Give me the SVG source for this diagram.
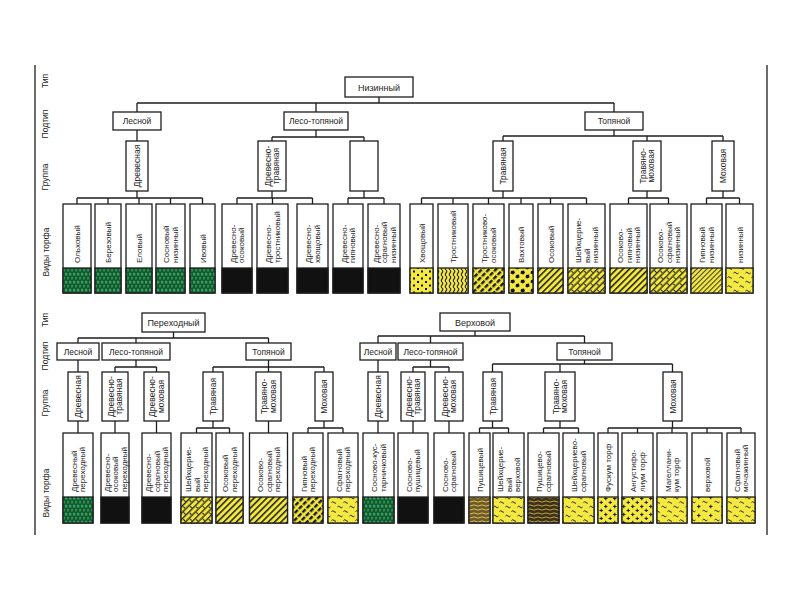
<svg xmlns="http://www.w3.org/2000/svg" width="800" height="600" viewBox="0 0 800 600">
<style>
.b{fill:#fff;stroke:#1e1e1e;stroke-width:1.3}
.p{stroke:#1e1e1e;stroke-width:1.3}
.k{fill:#111;stroke:#1e1e1e;stroke-width:1.3}
.c{fill:none;stroke:#1e1e1e;stroke-width:1.3}
.t{font-family:"Liberation Sans",Arial,sans-serif;fill:#1e1e1e}
.ty{font-size:9px;text-anchor:middle}
.st{font-size:8.5px;text-anchor:middle}
.g{font-size:8.5px;text-anchor:middle}
.s{font-size:8px}
.ax{font-size:8.5px;text-anchor:middle}
</style>
<defs>
<pattern id="pG" width="8" height="8" patternUnits="userSpaceOnUse">
<rect width="8" height="8" fill="#0d4a24"/>
<rect x="0.8" y="0.6" width="2.6" height="3" fill="#35a060"/>
<rect x="4.8" y="0.6" width="2.6" height="3" fill="#35a060"/>
<rect x="2.8" y="4.6" width="2.6" height="3" fill="#2b8a50"/>
<rect x="6.8" y="4.6" width="1.2" height="3" fill="#2b8a50"/>
<rect x="0" y="4.6" width="1.4" height="3" fill="#2b8a50"/>
</pattern>
<pattern id="pH" width="4.5" height="4.5" patternUnits="userSpaceOnUse" patternTransform="rotate(45)">
<rect width="4.5" height="4.5" fill="#f4e940"/><rect width="1.5" height="4.5" fill="#1a1a1a"/>
</pattern>
<pattern id="pHT" width="5" height="6" patternUnits="userSpaceOnUse" patternTransform="rotate(45)">
<rect width="5" height="6" fill="#f4e940"/><rect width="2.4" height="4.5" fill="#1a1a1a"/>
</pattern>
<pattern id="pHF" width="3.5" height="3.5" patternUnits="userSpaceOnUse" patternTransform="rotate(45)">
<rect width="3.5" height="3.5" fill="#f4e940"/><rect width="1" height="3.5" fill="#333"/>
</pattern>
<pattern id="pHD" width="9" height="9" patternUnits="userSpaceOnUse" patternTransform="rotate(45)">
<rect width="9" height="9" fill="#f4e940"/><rect width="1.3" height="9" fill="#1a1a1a"/><rect x="4.5" width="1.3" height="9" fill="#1a1a1a"/><rect x="1.8" y="3" width="2.4" height="1.1" fill="#1a1a1a"/><rect x="6.3" y="7" width="2.4" height="1.1" fill="#1a1a1a"/>
</pattern>
<pattern id="pT" width="12" height="9" patternUnits="userSpaceOnUse">
<rect width="12" height="9" fill="#f4e940"/>
<path d="M1.5 3q1.25-1.6 2.5 0q1.25 1.6 2.5 0M7.5 7.5q1.25-1.6 2.5 0q1.25 1.6 2.5 0" fill="none" stroke="#222" stroke-width="1"/>
</pattern>
<pattern id="pD" width="8" height="7" patternUnits="userSpaceOnUse">
<rect width="8" height="7" fill="#f4e940"/><rect x="1" y="1" width="2" height="2" fill="#111"/><rect x="5" y="4.5" width="2" height="2" fill="#111"/>
</pattern>
<pattern id="pW" width="4" height="6" patternUnits="userSpaceOnUse">
<rect width="4" height="6" fill="#f4e940"/><path d="M2 0q1.5 1.5 0 3q-1.5 1.5 0 3" fill="none" stroke="#222" stroke-width="1.1"/>
</pattern>
<pattern id="pBl" width="10" height="9" patternUnits="userSpaceOnUse">
<rect width="10" height="9" fill="#f4e940"/><polygon points="1,1 4,0.5 5,3 3,4.5 0.5,3.5" fill="#111"/><polygon points="6,5 9,4.5 9.5,7.5 7,8.5 5.5,7.5" fill="#111"/>
</pattern>
<pattern id="pP" width="9" height="8" patternUnits="userSpaceOnUse">
<rect width="9" height="8" fill="#f4e940"/><path d="M1 2.5h3.5M2.75 0.75v3.5M5.5 6.5h3.5M7.25 4.75v3.5" stroke="#222" stroke-width="1.1"/>
</pattern>
<pattern id="pPT" width="12" height="9" patternUnits="userSpaceOnUse">
<rect width="12" height="9" fill="#f4e940"/><path d="M1 2.5h3.5M2.75 0.75v3.5" stroke="#222" stroke-width="1.1"/><path d="M6.5 7q1.25-1.6 2.5 0q1.25 1.6 2.5 0" fill="none" stroke="#222" stroke-width="1"/>
</pattern>
<pattern id="pB" width="8" height="4" patternUnits="userSpaceOnUse">
<rect width="8" height="4" fill="#6e5b24"/><path d="M0 1.5q2-1.2 4 0t4 0" fill="none" stroke="#d8c066" stroke-width="1"/>
</pattern>
<pattern id="pB2" width="8" height="4" patternUnits="userSpaceOnUse">
<rect width="8" height="4" fill="#3e3214"/><path d="M0 1.5q2-1.2 4 0t4 0" fill="none" stroke="#b9a055" stroke-width="1"/>
</pattern>
</defs>

<g id="frame">
<line class="c" x1="35" y1="65" x2="35" y2="535"/>
<line class="c" x1="767" y1="65" x2="767" y2="535"/>
</g>

<g id="axis" class="t">
<text class="ax" transform="translate(48,81) rotate(-90)">Тип</text>
<text class="ax" transform="translate(48,124) rotate(-90)">Подтип</text>
<text class="ax" transform="translate(48,177) rotate(-90)">Группа</text>
<text class="ax" transform="translate(49,252) rotate(-90)">Виды торфа</text>
<text class="ax" transform="translate(48,320) rotate(-90)">Тип</text>
<text class="ax" transform="translate(48,356) rotate(-90)">Подтип</text>
<text class="ax" transform="translate(48,403) rotate(-90)">Группа</text>
<text class="ax" transform="translate(49,493) rotate(-90)">Виды торфа</text>
</g>

<g id="connectors" class="c">
<path d="M379 97V103M137 103H614M137 103V112M316 103V112M614 103V112"/>
<path d="M137 130V141M137 191V198M77 198H202.5M77 198V204M108 198V204M139 198V204M170.5 198V204M202.5 198V204"/>
<path d="M316 130V137M272 137H364M272 137V141M364 137V141M272 191V198M237 198H312.5M237 198V204M272.5 198V204M312.5 198V204M364 191V198M348 198H384M348 198V204M384 198V204"/>
<path d="M614 130V136M503 136H723M503 136V141M647 136V141M723 136V141M503 191V198M421.5 198H586.5M421.5 198V204M453 198V204M488.5 198V204M521 198V204M550.5 198V204M586.5 198V204M647 191V198M628.5 198H668.5M628.5 198V204M668.5 198V204M723 191V198M706.5 198H739.5M706.5 198V204M739.5 198V204"/>
<path d="M173.5 332V338M78 338H268.5M78 338V343M136 338V343M268.5 338V343M78 360V372M78 421V433"/>
<path d="M136 360V367M115 367H156.5M115 367V372M156.5 367V372M115 421V433M156.5 421V433"/>
<path d="M268.5 360V367M213 367H324M213 367V372M268.5 367V372M324 367V372M213 421V428M196.5 428H229.5M196.5 428V433M229.5 428V433M268.5 421V433M324 421V428M308 428H343M308 428V433M343 428V433"/>
<path d="M475 331V336M378 336H584.5M378 336V343M430.5 336V343M584.5 336V343M378 360V372M378 421V433"/>
<path d="M430.5 360V367M413 367H449M413 367V372M449 367V372M413 421V433M449 421V433"/>
<path d="M584.5 360V364M492.5 364H672.5M492.5 364V372M560 364V372M672.5 364V372M492.5 421V428M479.5 428H508.5M479.5 428V433M508.5 428V433M560 421V428M543.5 428H578.5M543.5 428V433M578.5 428V433M672.5 421V428M608 428H741M608 428V433M637.5 428V433M672 428V433M707 428V433M741 428V433"/>
</g>

<g id="nizinny" class="t"><rect class="b" x="345" y="77" width="68" height="20"/><text class="t ty" x="379" y="90.5">Низинный</text></g>
<g id="n-lesnoy" class="t"><rect class="b" x="113" y="112" width="48" height="18"/><text class="t st" x="137" y="124">Лесной</text></g>
<g id="n-lesotop" class="t"><rect class="b" x="284" y="112" width="64" height="18"/><text class="t st" x="316" y="124">Лесо-топяной</text></g>
<g id="n-topyanoy" class="t"><rect class="b" x="585" y="112" width="58" height="18"/><text class="t st" x="614" y="124">Топяной</text></g>

<g id="n-g-drev" class="t"><rect class="b" x="126" y="141" width="22" height="50"/><text class="t g" transform="translate(140,166) rotate(-90)">Древесная</text></g>
<g id="n-g-drtr" class="t"><rect class="b" x="258" y="141" width="28" height="50"/><text class="t g" transform="translate(270.75,166) rotate(-90)"><tspan x="0">Древесно-</tspan><tspan x="0" dy="8.5">травяная</tspan></text></g>
<g id="n-g-empty"><rect class="b" x="350" y="141" width="28" height="50"/></g>
<g id="n-g-trav" class="t"><rect class="b" x="493" y="141" width="20" height="50"/><text class="t g" transform="translate(506,166) rotate(-90)">Травяная</text></g>
<g id="n-g-trmo" class="t"><rect class="b" x="633" y="141" width="28" height="50"/><text class="t g" transform="translate(645.75,166) rotate(-90)"><tspan x="0">Травяно-</tspan><tspan x="0" dy="8.5">моховая</tspan></text></g>
<g id="n-g-moh" class="t"><rect class="b" x="712" y="141" width="22" height="50"/><text class="t g" transform="translate(726,166) rotate(-90)">Моховая</text></g>

<g id="n-s1"><rect class="b" x="63" y="204" width="28" height="89"/><rect class="p" x="63" y="268" width="28" height="25" fill="url(#pG)"/><text class="t s" transform="translate(80,263) rotate(-90)">Ольховый</text></g>
<g id="n-s2"><rect class="b" x="95" y="204" width="26" height="89"/><rect class="p" x="95" y="268" width="26" height="25" fill="url(#pG)"/><text class="t s" transform="translate(111,263) rotate(-90)">Березовый</text></g>
<g id="n-s3"><rect class="b" x="126" y="204" width="26" height="89"/><rect class="p" x="126" y="268" width="26" height="25" fill="url(#pG)"/><text class="t s" transform="translate(142,263) rotate(-90)">Еловый</text></g>
<g id="n-s4"><rect class="b" x="156" y="204" width="29" height="89"/><rect class="p" x="156" y="268" width="29" height="25" fill="url(#pG)"/><text class="t s" transform="translate(169.25,263) rotate(-90)"><tspan x="0">Сосновый</tspan><tspan x="0" dy="8.5">низинный</tspan></text></g>
<g id="n-s5"><rect class="b" x="190" y="204" width="25" height="89"/><rect class="p" x="190" y="268" width="25" height="25" fill="url(#pG)"/><text class="t s" transform="translate(205.5,263) rotate(-90)">Ивовый</text></g>
<g id="n-s6"><rect class="b" x="222" y="204" width="30" height="89"/><rect class="k" x="222" y="268" width="30" height="25"/><text class="t s" transform="translate(235.75,263) rotate(-90)"><tspan x="0">Древесно-</tspan><tspan x="0" dy="8.5">осоковый</tspan></text></g>
<g id="n-s7"><rect class="b" x="257" y="204" width="31" height="89"/><rect class="k" x="257" y="268" width="31" height="25"/><text class="t s" transform="translate(271.25,263) rotate(-90)"><tspan x="0">Древесно-</tspan><tspan x="0" dy="8.5">тростниковый</tspan></text></g>
<g id="n-s8"><rect class="b" x="297" y="204" width="31" height="89"/><rect class="k" x="297" y="268" width="31" height="25"/><text class="t s" transform="translate(311.25,263) rotate(-90)"><tspan x="0">Древесно-</tspan><tspan x="0" dy="8.5">хвощовый</tspan></text></g>
<g id="n-s9"><rect class="b" x="333" y="204" width="30" height="89"/><rect class="k" x="333" y="268" width="30" height="25"/><text class="t s" transform="translate(346.75,263) rotate(-90)"><tspan x="0">Древесно-</tspan><tspan x="0" dy="8.5">гипновый</tspan></text></g>
<g id="n-s10"><rect class="b" x="368" y="204" width="32" height="89"/><rect class="k" x="368" y="268" width="32" height="25"/><text class="t s" transform="translate(378.5,263) rotate(-90)"><tspan x="0">Древесно-</tspan><tspan x="0" dy="8.5">сфагновый</tspan><tspan x="0" dy="8.5">низинный</tspan></text></g>
<g id="n-s11"><rect class="b" x="410" y="204" width="23" height="89"/><rect class="p" x="410" y="268" width="23" height="25" fill="url(#pD)"/><text class="t s" transform="translate(424.5,263) rotate(-90)">Хвощовый</text></g>
<g id="n-s12"><rect class="b" x="438" y="204" width="30" height="89"/><rect class="p" x="438" y="268" width="30" height="25" fill="url(#pW)"/><text class="t s" transform="translate(456,263) rotate(-90)">Тростниковый</text></g>
<g id="n-s13"><rect class="b" x="473" y="204" width="31" height="89"/><rect class="p" x="473" y="268" width="31" height="25" fill="url(#pHT)"/><text class="t s" transform="translate(487.25,263) rotate(-90)"><tspan x="0">Тростниково-</tspan><tspan x="0" dy="8.5">осоковый</tspan></text></g>
<g id="n-s14"><rect class="b" x="509" y="204" width="24" height="89"/><rect class="p" x="509" y="268" width="24" height="25" fill="url(#pBl)"/><text class="t s" transform="translate(524,263) rotate(-90)">Вахтовый</text></g>
<g id="n-s15"><rect class="b" x="538" y="204" width="25" height="89"/><rect class="p" x="538" y="268" width="25" height="25" fill="url(#pH)"/><text class="t s" transform="translate(553.5,263) rotate(-90)">Осоковый</text></g>
<g id="n-s16"><rect class="b" x="568" y="204" width="37" height="89"/><rect class="p" x="568" y="268" width="37" height="25" fill="url(#pHD)"/><text class="t s" transform="translate(581,263) rotate(-90)"><tspan x="0">Шейхцерие-</tspan><tspan x="0" dy="8.5">вый</tspan><tspan x="0" dy="8.5">низинный</tspan></text></g>
<g id="n-s17"><rect class="b" x="610" y="204" width="37" height="89"/><rect class="p" x="610" y="268" width="37" height="25" fill="url(#pH)"/><text class="t s" transform="translate(623,263) rotate(-90)"><tspan x="0">Осоково-</tspan><tspan x="0" dy="8.5">гипновый</tspan><tspan x="0" dy="8.5">низинный</tspan></text></g>
<g id="n-s18"><rect class="b" x="650" y="204" width="37" height="89"/><rect class="p" x="650" y="268" width="37" height="25" fill="url(#pHD)"/><text class="t s" transform="translate(663,263) rotate(-90)"><tspan x="0">Осоково-</tspan><tspan x="0" dy="8.5">сфагновый</tspan><tspan x="0" dy="8.5">низинный</tspan></text></g>
<g id="n-s19"><rect class="b" x="691" y="204" width="31" height="89"/><rect class="p" x="691" y="268" width="31" height="25" fill="url(#pHF)"/><text class="t s" transform="translate(705.25,263) rotate(-90)"><tspan x="0">Гипновый</tspan><tspan x="0" dy="8.5">низинный</tspan></text></g>
<g id="n-s20"><rect class="b" x="726" y="204" width="27" height="89"/><rect class="p" x="726" y="268" width="27" height="25" fill="url(#pT)"/><text class="t s" transform="translate(742.5,263) rotate(-90)">низинный</text></g>

<g id="perehodny"><rect class="b" x="142" y="313" width="63" height="19"/><text class="t ty" x="173.5" y="326">Переходный</text></g>
<g id="p-lesnoy"><rect class="b" x="57" y="343" width="42" height="17"/><text class="t st" x="78" y="354.5">Лесной</text></g>
<g id="p-lesotop"><rect class="b" x="102" y="343" width="68" height="17"/><text class="t st" x="136" y="354.5">Лесо-топяной</text></g>
<g id="p-topyanoy"><rect class="b" x="246" y="343" width="45" height="17"/><text class="t st" x="268.5" y="354.5">Топяной</text></g>
<g id="p-g-drev"><rect class="b" x="68" y="372" width="20" height="49"/><text class="t g" transform="translate(81,396.5) rotate(-90)">Древесная</text></g>
<g id="p-g-drtr"><rect class="b" x="102" y="372" width="26" height="49"/><text class="t g" transform="translate(113.75,396.5) rotate(-90)"><tspan x="0">Древесно-</tspan><tspan x="0" dy="8.5">травяная</tspan></text></g>
<g id="p-g-drmo"><rect class="b" x="144" y="372" width="25" height="49"/><text class="t g" transform="translate(155.25,396.5) rotate(-90)"><tspan x="0">Древесно-</tspan><tspan x="0" dy="8.5">моховая</tspan></text></g>
<g id="p-g-trav"><rect class="b" x="203" y="372" width="20" height="49"/><text class="t g" transform="translate(216,396.5) rotate(-90)">Травяная</text></g>
<g id="p-g-trmo"><rect class="b" x="256" y="372" width="25" height="49"/><text class="t g" transform="translate(267.25,396.5) rotate(-90)"><tspan x="0">Травяно-</tspan><tspan x="0" dy="8.5">моховая</tspan></text></g>
<g id="p-g-moh"><rect class="b" x="315" y="372" width="18" height="49"/><text class="t g" transform="translate(327,396.5) rotate(-90)">Моховая</text></g>

<g id="p-s1"><rect class="b" x="63" y="433" width="30" height="90"/><rect class="p" x="63" y="497" width="30" height="26" fill="url(#pG)"/><text class="t s" transform="translate(76.75,492) rotate(-90)"><tspan x="0">Древесный</tspan><tspan x="0" dy="8.5">переходный</tspan></text></g>
<g id="p-s2"><rect class="b" x="101" y="433" width="28" height="90"/><rect class="k" x="101" y="497" width="28" height="26"/><text class="t s" transform="translate(109.5,492) rotate(-90)"><tspan x="0">Древесно-</tspan><tspan x="0" dy="8.5">осоковый</tspan><tspan x="0" dy="8.5">переходный</tspan></text></g>
<g id="p-s3"><rect class="b" x="142" y="433" width="29" height="90"/><rect class="k" x="142" y="497" width="29" height="26"/><text class="t s" transform="translate(151,492) rotate(-90)"><tspan x="0">Древесно-</tspan><tspan x="0" dy="8.5">сфагновый</tspan><tspan x="0" dy="8.5">переходный</tspan></text></g>
<g id="p-s4"><rect class="b" x="181" y="433" width="31" height="90"/><rect class="p" x="181" y="497" width="31" height="26" fill="url(#pHD)"/><text class="t s" transform="translate(191,492) rotate(-90)"><tspan x="0">Шейхцерие-</tspan><tspan x="0" dy="8.5">вый</tspan><tspan x="0" dy="8.5">переходный</tspan></text></g>
<g id="p-s5"><rect class="b" x="216" y="433" width="27" height="90"/><rect class="p" x="216" y="497" width="27" height="26" fill="url(#pH)"/><text class="t s" transform="translate(228.25,492) rotate(-90)"><tspan x="0">Осоковый</tspan><tspan x="0" dy="8.5">переходный</tspan></text></g>
<g id="p-s6"><rect class="b" x="249.5" y="433" width="38" height="90"/><rect class="p" x="249.5" y="497" width="38" height="26" fill="url(#pH)"/><text class="t s" transform="translate(263,492) rotate(-90)"><tspan x="0">Осоково-</tspan><tspan x="0" dy="8.5">сфагновый</tspan><tspan x="0" dy="8.5">переходный</tspan></text></g>
<g id="p-s7"><rect class="b" x="293" y="433" width="30" height="90"/><rect class="p" x="293" y="497" width="30" height="26" fill="url(#pHT)"/><text class="t s" transform="translate(306.75,492) rotate(-90)"><tspan x="0">Гипновый</tspan><tspan x="0" dy="8.5">переходный</tspan></text></g>
<g id="p-s8"><rect class="b" x="328" y="433" width="30" height="90"/><rect class="p" x="328" y="497" width="30" height="26" fill="url(#pT)"/><text class="t s" transform="translate(341.75,492) rotate(-90)"><tspan x="0">Сфагновый</tspan><tspan x="0" dy="8.5">переходный</tspan></text></g>

<g id="verhovoy"><rect class="b" x="440" y="313" width="70" height="18"/><text class="t ty" x="475" y="325.5">Верховой</text></g>
<g id="v-lesnoy"><rect class="b" x="360" y="343" width="36" height="17"/><text class="t st" x="378" y="354.5">Лесной</text></g>
<g id="v-lesotop"><rect class="b" x="398" y="343" width="65" height="17"/><text class="t st" x="430.5" y="354.5">Лесо-топяной</text></g>
<g id="v-topyanoy"><rect class="b" x="557" y="343" width="55" height="17"/><text class="t st" x="584.5" y="354.5">Топяной</text></g>
<g id="v-g-drev"><rect class="b" x="368" y="372" width="20" height="49"/><text class="t g" transform="translate(381,396.5) rotate(-90)">Древесная</text></g>
<g id="v-g-drtr"><rect class="b" x="401" y="372" width="24" height="49"/><text class="t g" transform="translate(411.75,396.5) rotate(-90)"><tspan x="0">Древесно-</tspan><tspan x="0" dy="8.5">травяная</tspan></text></g>
<g id="v-g-drmo"><rect class="b" x="435" y="372" width="28" height="49"/><text class="t g" transform="translate(447.75,396.5) rotate(-90)"><tspan x="0">Древесно-</tspan><tspan x="0" dy="8.5">моховая</tspan></text></g>
<g id="v-g-trav"><rect class="b" x="483" y="372" width="19" height="49"/><text class="t g" transform="translate(495.5,396.5) rotate(-90)">Травяная</text></g>
<g id="v-g-trmo"><rect class="b" x="545" y="372" width="30" height="49"/><text class="t g" transform="translate(558.75,396.5) rotate(-90)"><tspan x="0">Травяно-</tspan><tspan x="0" dy="8.5">моховая</tspan></text></g>
<g id="v-g-moh"><rect class="b" x="663" y="372" width="19" height="49"/><text class="t g" transform="translate(675.5,396.5) rotate(-90)">Моховая</text></g>

<g id="v-s1"><rect class="b" x="363" y="433" width="31" height="90"/><rect class="p" x="363" y="497" width="31" height="26" fill="url(#pG)"/><text class="t s" transform="translate(377.25,492) rotate(-90)"><tspan x="0">Сосново-кус-</tspan><tspan x="0" dy="8.5">тарничковый</tspan></text></g>
<g id="v-s2"><rect class="b" x="398" y="433" width="30" height="90"/><rect class="k" x="398" y="497" width="30" height="26"/><text class="t s" transform="translate(411.75,492) rotate(-90)"><tspan x="0">Сосново-</tspan><tspan x="0" dy="8.5">пушицевый</tspan></text></g>
<g id="v-s3"><rect class="b" x="434" y="433" width="30" height="90"/><rect class="k" x="434" y="497" width="30" height="26"/><text class="t s" transform="translate(447.75,492) rotate(-90)"><tspan x="0">Сосново-</tspan><tspan x="0" dy="8.5">сфагновый</tspan></text></g>
<g id="v-s4"><rect class="b" x="469" y="433" width="21" height="90"/><rect class="p" x="469" y="497" width="21" height="26" fill="url(#pB)"/><text class="t s" transform="translate(482.5,492) rotate(-90)">Пушицевый</text></g>
<g id="v-s5"><rect class="b" x="493" y="433" width="31" height="90"/><rect class="p" x="493" y="497" width="31" height="26" fill="url(#pT)"/><text class="t s" transform="translate(503,492) rotate(-90)"><tspan x="0">Шейхцерие-</tspan><tspan x="0" dy="8.5">вый</tspan><tspan x="0" dy="8.5">верховой</tspan></text></g>
<g id="v-s6"><rect class="b" x="528" y="433" width="31" height="90"/><rect class="p" x="528" y="497" width="31" height="26" fill="url(#pB2)"/><text class="t s" transform="translate(542.25,492) rotate(-90)"><tspan x="0">Пушицево-</tspan><tspan x="0" dy="8.5">сфагновый</tspan></text></g>
<g id="v-s7"><rect class="b" x="563" y="433" width="31" height="90"/><rect class="p" x="563" y="497" width="31" height="26" fill="url(#pT)"/><text class="t s" transform="translate(577.25,492) rotate(-90)"><tspan x="0">Шейхцериево-</tspan><tspan x="0" dy="8.5">сфагновый</tspan></text></g>
<g id="v-s8"><rect class="b" x="598" y="433" width="20" height="90"/><rect class="p" x="598" y="497" width="20" height="26" fill="url(#pP)"/><text class="t s" transform="translate(611,492) rotate(-90)">Фускум торф</text></g>
<g id="v-s9"><rect class="b" x="622" y="433" width="31" height="90"/><rect class="p" x="622" y="497" width="31" height="26" fill="url(#pP)"/><text class="t s" transform="translate(636.25,492) rotate(-90)"><tspan x="0">Ангустифо-</tspan><tspan x="0" dy="8.5">лиум торф</tspan></text></g>
<g id="v-s10"><rect class="b" x="657" y="433" width="30" height="90"/><rect class="p" x="657" y="497" width="30" height="26" fill="url(#pT)"/><text class="t s" transform="translate(670.75,492) rotate(-90)"><tspan x="0">Магеллани-</tspan><tspan x="0" dy="8.5">кум торф</tspan></text></g>
<g id="v-s11"><rect class="b" x="692" y="433" width="30" height="90"/><rect class="p" x="692" y="497" width="30" height="26" fill="url(#pPT)"/><text class="t s" transform="translate(710,492) rotate(-90)">верховой</text></g>
<g id="v-s12"><rect class="b" x="727" y="433" width="28" height="90"/><rect class="p" x="727" y="497" width="28" height="26" fill="url(#pT)"/><text class="t s" transform="translate(739.75,492) rotate(-90)"><tspan x="0">Сфагновый</tspan><tspan x="0" dy="8.5">мочажинный</tspan></text></g>
</svg>
